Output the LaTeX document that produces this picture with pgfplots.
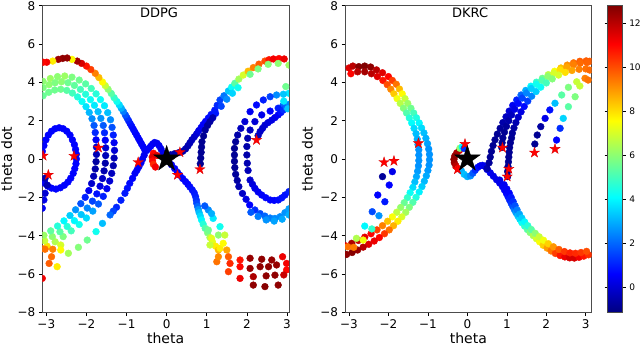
\documentclass[border=0pt]{standalone}
\usepackage{fontspec}
\setmainfont{DejaVu Sans}
\usepackage{pgfplots}
\pgfplotsset{compat=1.18}
\usetikzlibrary{plotmarks}

% filled five-pointed star like matplotlib's '*'
\pgfdeclareplotmark{fstar}{%
  \pgfpathmoveto{\pgfpointpolar{90}{\pgfplotmarksize}}%
  \pgfpathlineto{\pgfpointpolar{126}{0.382*\pgfplotmarksize}}%
  \pgfpathlineto{\pgfpointpolar{162}{\pgfplotmarksize}}%
  \pgfpathlineto{\pgfpointpolar{198}{0.382*\pgfplotmarksize}}%
  \pgfpathlineto{\pgfpointpolar{234}{\pgfplotmarksize}}%
  \pgfpathlineto{\pgfpointpolar{270}{0.382*\pgfplotmarksize}}%
  \pgfpathlineto{\pgfpointpolar{306}{\pgfplotmarksize}}%
  \pgfpathlineto{\pgfpointpolar{342}{0.382*\pgfplotmarksize}}%
  \pgfpathlineto{\pgfpointpolar{18}{\pgfplotmarksize}}%
  \pgfpathlineto{\pgfpointpolar{54}{0.382*\pgfplotmarksize}}%
  \pgfpathclose\pgfusepathqfillstroke}

\pgfplotsset{
  panel/.style={
    scale only axis, width=246.7pt, height=306.6pt,
    ymin=-8, ymax=8,
    xtick={-3,-2,-1,0,1,2,3}, xticklabels={−3,−2,−1,0,1,2,3},
    ytick={-8,-6,-4,-2,0,2,4,6,8}, yticklabels={−8,−6,−4,−2,0,2,4,6,8},
    tick align=outside, xtick pos=bottom, ytick pos=left,
    major tick length=3.5pt,
    tick style={black, line width=0.6pt},
    axis line style={black!70, line width=0.8pt},
    ticklabel style={font=\fontsize{12}{14}\selectfont},
    xlabel={theta}, ylabel={theta dot},
    label style={font=\fontsize{14}{16}\selectfont},
    xlabel style={at={(axis description cs:0.5,-0.085)}, anchor=center},
    colormap/jet, point meta min=-1.16, point meta max=12.8,
    clip marker paths=true,
  },
  dots/.style={scatter, only marks, mark=*, mark size=3.4pt, point meta=explicit,
    scatter/use mapped color={draw=mapped color, fill=mapped color}},
  rstar/.style={only marks, mark=fstar, mark size=5.4pt,
    mark options={fill=red, draw=red!85!black, line width=0.3pt}},
  bstar/.style={only marks, mark=fstar, mark size=13.5pt,
    mark options={fill=black, draw=black}},
}

\begin{document}
\begin{tikzpicture}
\path[use as bounding box] (0,0) rectangle (640pt,347pt);

% ---------------- DDPG ----------------
\begin{axis}[panel, at={(42.3pt,34.7pt)}, anchor=south west,
  xmin=-3.10, xmax=3.05,
  ylabel style={at={(axis description cs:-0.144,0.5)}, anchor=center},
  title={DDPG}, title style={at={(axis description cs:0.473,0.959)}, anchor=center, font=\fontsize{13}{15}\selectfont}]
% band of three orbits on the left
\addplot[dots] coordinates {(-3.08,4.05)[6.0] (-2.90,4.20)[6.2] (-2.72,4.30)[6.0] (-2.54,4.33)[6.2] (-2.36,4.27)[5.8] (-2.18,4.12)[5.6] (-2.02,3.92)[5.3] (-1.88,3.68)[5.0] (-1.76,3.40)[4.6] (-1.65,3.10)[4.2] (-1.55,2.78)[3.8] (-1.47,2.42)[3.2] (-1.40,2.05)[2.5] (-1.36,1.65)[1.7] (-1.33,1.25)[1.0] (-1.31,0.85)[0.4] (-1.30,0.45)[0.0] (-1.31,0.05)[-0.4] (-1.33,-0.35)[-0.5] (-1.37,-0.75)[-0.3] (-1.42,-1.15)[0.0] (-1.49,-1.55)[0.4] (-1.58,-1.95)[1.0] (-1.70,-2.35)[1.8] (-1.84,-2.72)[2.8] (-2.00,-3.08)[3.6] (-2.18,-3.42)[4.3] (-2.38,-3.75)[5.0] (-2.58,-4.05)[5.8] (-2.78,-4.32)[6.5] (-2.98,-4.55)[8.0] (-3.10,-4.68)[9.5]};
\addplot[dots] coordinates {(-3.08,3.72)[5.8] (-2.93,3.88)[6.0] (-2.78,3.98)[5.8] (-2.62,4.03)[6.0] (-2.46,3.98)[5.6] (-2.30,3.84)[5.4] (-2.15,3.63)[5.0] (-2.02,3.38)[4.6] (-1.90,3.10)[4.2] (-1.80,2.80)[3.8] (-1.71,2.47)[3.2] (-1.64,2.12)[2.6] (-1.58,1.75)[1.8] (-1.55,1.37)[1.1] (-1.53,0.98)[0.5] (-1.52,0.58)[0.0] (-1.52,0.18)[-0.4] (-1.53,-0.22)[-0.6] (-1.56,-0.62)[-0.5] (-1.60,-1.02)[-0.2] (-1.66,-1.42)[0.2] (-1.74,-1.82)[0.8] (-1.85,-2.20)[1.5] (-1.98,-2.56)[2.4] (-2.13,-2.90)[3.3] (-2.30,-3.22)[4.0] (-2.48,-3.52)[4.6] (-2.66,-3.80)[5.3] (-2.85,-4.05)[6.0] (-3.04,-4.27)[6.8]};
\addplot[dots] coordinates {(-3.08,3.30)[5.5] (-2.94,3.48)[5.6] (-2.79,3.60)[5.6] (-2.64,3.64)[5.6] (-2.49,3.58)[5.3] (-2.35,3.44)[5.0] (-2.22,3.24)[4.6] (-2.11,3.00)[4.2] (-2.01,2.73)[3.7] (-1.93,2.43)[3.1] (-1.86,2.10)[2.5] (-1.81,1.75)[1.8] (-1.78,1.38)[1.1] (-1.76,1.00)[0.5] (-1.75,0.62)[0.0] (-1.75,0.24)[-0.4] (-1.76,-0.14)[-0.7] (-1.78,-0.52)[-0.6] (-1.82,-0.90)[-0.4] (-1.87,-1.28)[-0.1] (-1.94,-1.65)[0.4] (-2.03,-2.00)[1.0] (-2.14,-2.33)[1.7] (-2.27,-2.65)[2.6] (-2.41,-2.95)[3.4] (-2.56,-3.23)[4.0] (-2.72,-3.50)[4.6] (-2.89,-3.75)[5.4] (-3.06,-3.98)[6.2]};
\addplot[dots] coordinates {(-3.03,-4.71)[9.5] (-2.84,-4.71)[9.3] (-2.87,-5.10)[9.6] (-2.93,-5.45)[9.8] (-2.73,-5.62)[7.8] (-3.10,-6.23)[11.2] (-2.64,-4.49)[7.0] (-2.64,-4.75)[7.6]};
% small loop and left edge
\addplot[dots] coordinates {(-3.10,0.40)[0.6] (-3.06,0.70)[0.6] (-3.01,1.00)[0.6] (-2.95,1.25)[0.6] (-2.87,1.45)[0.6] (-2.78,1.58)[0.6] (-2.68,1.63)[0.6] (-2.58,1.58)[0.6] (-2.49,1.45)[0.6] (-2.41,1.25)[0.6] (-2.35,1.00)[0.6] (-2.30,0.75)[0.6] (-2.27,0.50)[0.6] (-2.25,0.25)[0.6] (-2.25,0.00)[0.6] (-2.26,-0.25)[0.6] (-2.29,-0.50)[0.6] (-2.33,-0.75)[0.6] (-2.39,-1.00)[0.6] (-2.46,-1.20)[0.6] (-2.55,-1.37)[0.6] (-2.65,-1.50)[0.6] (-2.76,-1.57)[0.6] (-2.87,-1.52)[0.6] (-2.96,-1.42)[0.6] (-3.03,-1.28)[0.6] (-3.10,-1.15)[0.6]};
\addplot[dots] coordinates {(-3.03,-1.00)[-0.5] (-2.98,-1.36)[-0.5] (-3.03,-1.79)[0.0] (-3.06,-2.14)[0.3] (-3.10,-2.57)[0.5]};
% X-shaped arms on the left
\addplot[dots] coordinates {(-0.04,0.12)[0.3] (-0.09,0.32)[0.3] (-0.14,0.52)[0.3] (-0.19,0.70)[0.4] (-0.24,0.82)[0.4] (-0.30,0.86)[0.4] (-0.35,0.78)[0.4] (-0.40,0.66)[0.5] (-0.45,0.54)[0.5] (-0.50,0.44)[0.5] (-0.55,0.50)[0.5] (-0.59,0.65)[0.5] (-0.63,0.80)[0.5] (-0.67,0.95)[0.5] (-0.71,1.10)[0.5] (-0.75,1.25)[0.6] (-0.79,1.40)[0.6] (-0.83,1.55)[0.7] (-0.87,1.70)[0.7] (-0.91,1.85)[0.8] (-0.95,2.00)[1.0] (-0.99,2.15)[1.3] (-1.03,2.30)[1.7] (-1.08,2.48)[2.3] (-1.13,2.65)[3.0] (-1.18,2.82)[3.6] (-1.24,3.00)[4.3] (-1.31,3.20)[4.8] (-1.38,3.42)[5.3] (-1.46,3.64)[6.0] (-1.53,3.83)[6.8] (-1.60,4.02)[7.6] (-1.69,4.25)[8.5] (-1.78,4.47)[9.3] (-1.89,4.67)[10.2] (-2.00,4.85)[10.8] (-2.12,4.99)[11.6] (-2.23,5.11)[12.3] (-2.36,5.20)[7.6] (-2.48,5.27)[12.5] (-2.59,5.25)[12.6] (-2.70,5.20)[12.4] (-2.84,5.11)[7.8] (-2.99,5.05)[11.2] (-3.08,5.05)[11.0]};
\addplot[dots] coordinates {(-0.56,0.20)[0.4] (-0.60,0.00)[0.4] (-0.64,-0.20)[0.4] (-0.69,-0.40)[0.5] (-0.74,-0.58)[0.5] (-0.79,-0.75)[0.5] (-0.85,-1.01)[0.6] (-0.92,-1.27)[0.7] (-0.98,-1.53)[0.8] (-1.04,-1.79)[0.9] (-1.14,-2.15)[1.0] (-1.25,-2.52)[1.1] (-1.33,-2.72)[1.5] (-1.41,-2.92)[2.0] (-1.60,-3.36)[3.2] (-1.76,-3.79)[4.3] (-1.98,-4.23)[5.6] (-2.20,-4.61)[5.9] (-2.45,-4.92)[6.3]};
% red cluster near the goal
\addplot[dots] coordinates {(-0.33,0.30)[11.0] (-0.36,0.10)[11.5] (-0.35,-0.10)[11.0] (-0.33,-0.28)[10.5] (-0.28,-0.42)[11.2] (-0.24,0.18)[11.5]};
% arm to upper right
\addplot[dots] coordinates {(0.10,0.22)[-0.6] (0.20,0.28)[-0.6] (0.30,0.33)[-0.6] (0.40,0.40)[-0.6] (0.47,0.52)[-0.5] (0.53,0.68)[-0.5] (0.58,0.84)[-0.4] (0.63,1.00)[-0.3] (0.69,1.16)[-0.2] (0.75,1.32)[0.0] (0.80,1.48)[0.2] (0.86,1.64)[0.4] (0.91,1.80)[0.5] (0.97,1.96)[0.6] (1.04,2.14)[0.7] (1.11,2.32)[0.8] (1.20,2.55)[0.9] (1.26,2.80)[1.1] (1.33,3.08)[1.5] (1.43,3.30)[2.2] (1.54,3.55)[3.3] (1.62,3.75)[4.2] (1.70,3.95)[5.3] (1.80,4.17)[6.3] (1.91,4.38)[7.0] (2.03,4.58)[8.5] (2.16,4.77)[9.3] (2.30,4.95)[9.8] (2.45,5.11)[10.0] (2.55,5.18)[10.8] (2.66,5.22)[11.2] (2.80,5.24)[11.0] (2.93,5.22)[11.3] (3.08,5.20)[11.0]};
\addplot[dots] coordinates {(1.22,2.38)[0.9] (1.36,2.75)[1.5] (1.50,3.12)[2.5] (1.64,3.43)[3.5] (1.78,3.72)[4.3] (2.08,4.42)[5.6] (2.28,4.70)[5.8] (2.53,4.94)[5.9] (2.78,4.99)[6.0] (3.05,4.90)[6.2]};
\addplot[dots] coordinates {(0.84,-0.25)[-0.9] (0.85,0.05)[-0.9] (0.86,0.35)[-0.9] (0.87,0.62)[-0.9] (0.88,0.90)[-0.9] (0.92,1.20)[-0.9] (0.96,1.51)[-0.8] (1.02,1.75)[-0.8] (1.08,1.95)[-0.7] (1.15,2.15)[-0.5]};
% C-shaped orbits on the right
\addplot[dots] coordinates {(3.05,3.43)[3.8] (2.91,3.38)[3.3] (2.74,3.34)[2.5] (2.58,3.25)[1.5] (2.41,3.08)[1.0] (2.24,2.82)[0.7] (2.08,2.47)[0.4] (1.95,1.95)[0.0] (1.85,1.60)[-0.3] (1.77,1.25)[-0.6] (1.72,0.90)[-0.8] (1.69,0.55)[-0.9] (1.69,0.21)[-0.9] (1.69,-0.12)[-0.9] (1.70,-0.45)[-0.9] (1.72,-0.80)[-0.8] (1.76,-1.12)[-0.7] (1.80,-1.44)[-0.5] (1.89,-1.80)[-0.2] (1.98,-2.10)[0.2] (2.07,-2.40)[0.6] (2.20,-2.66)[1.2] (2.33,-2.85)[1.6] (2.45,-2.98)[2.0] (2.58,-3.08)[2.3] (2.70,-3.10)[2.5] (2.83,-3.01)[2.5] (2.95,-2.80)[2.6] (3.05,-2.60)[2.8]};
\addplot[dots] coordinates {(2.10,-2.78)[1.8] (2.28,-3.00)[2.3] (2.48,-3.18)[2.6] (2.68,-3.24)[2.8] (2.88,-3.14)[2.9] (3.05,-2.92)[3.0]};
\addplot[dots] coordinates {(2.90,2.80)[2.0] (2.78,2.65)[1.0] (2.58,2.50)[0.6] (2.37,2.30)[0.3] (2.20,1.95)[0.0] (2.08,1.51)[-0.3] (2.02,1.08)[-0.5] (2.00,0.65)[-0.6] (2.00,0.21)[-0.6] (2.01,-0.22)[-0.5] (2.03,-0.60)[-0.4] (2.08,-1.10)[-0.1] (2.14,-1.32)[0.1] (2.20,-1.53)[0.3] (2.28,-1.72)[0.4] (2.37,-1.88)[0.5] (2.47,-2.02)[0.6] (2.58,-2.14)[0.6] (2.68,-2.16)[0.6] (2.78,-2.14)[0.7] (2.87,-2.03)[0.8] (2.95,-1.88)[0.8] (3.05,-1.70)[1.0]};
\addplot[dots] coordinates {(2.28,1.22)[-0.3] (2.33,1.43)[-0.2] (2.39,1.60)[-0.1] (2.45,1.77)[0.0] (2.53,1.90)[0.1] (2.62,2.03)[0.2] (2.70,2.16)[0.3] (2.78,2.30)[0.5] (2.85,2.43)[0.8] (2.91,2.56)[1.2] (2.98,2.70)[2.0] (3.05,2.85)[2.5]};
\addplot[dots] coordinates {(2.97,3.78)[5.6] (3.07,3.60)[5.0] (2.92,3.02)[3.8] (3.02,2.62)[3.3]};
% arm to lower right and the red fan
\addplot[dots] coordinates {(0.05,-0.12)[0.3] (0.12,-0.30)[0.4] (0.20,-0.50)[0.5] (0.27,-0.70)[0.5] (0.33,-0.85)[0.5] (0.40,-1.02)[0.5] (0.47,-1.18)[0.6] (0.53,-1.32)[0.6] (0.58,-1.46)[0.7] (0.64,-1.62)[0.8] (0.69,-1.78)[0.9] (0.72,-1.96)[1.0] (0.74,-2.14)[1.2] (0.75,-2.31)[1.5] (0.77,-2.48)[2.0] (0.79,-2.64)[2.6] (0.81,-2.80)[3.2] (0.84,-2.98)[3.6] (0.87,-3.18)[4.0] (0.91,-3.40)[4.6] (0.96,-3.62)[5.2] (1.02,-3.85)[5.8] (1.08,-4.10)[6.5] (1.14,-4.32)[7.2] (1.22,-4.55)[7.8] (1.29,-4.75)[8.5]};
\addplot[dots] coordinates {(1.08,-4.49)[6.8] (1.12,-4.14)[7.2] (1.29,-3.97)[6.0] (1.45,-3.97)[6.8] (1.04,-3.71)[5.6] (1.33,-3.53)[4.3] (1.16,-3.10)[3.8] (1.04,-2.66)[2.5] (0.95,-2.45)[1.8] (1.12,-2.85)[3.0] (1.33,-4.66)[7.8] (1.41,-4.40)[7.6] (1.50,-4.75)[8.8] (1.25,-5.36)[9.5] (1.29,-5.10)[9.2] (1.54,-5.10)[9.8] (1.58,-5.45)[10.5] (1.54,-5.88)[10.2] (1.83,-5.27)[10.8] (1.83,-5.62)[11.0] (1.83,-6.23)[11.3] (2.08,-5.18)[12.5] (2.08,-5.71)[12.5] (2.16,-6.14)[12.2] (2.16,-6.58)[12.6] (2.37,-5.23)[12.6] (2.33,-5.62)[12.6] (2.48,-6.10)[12.6] (2.45,-6.66)[12.7] (2.62,-5.27)[12.5] (2.54,-5.62)[12.6] (2.70,-6.06)[12.6] (2.78,-6.58)[12.6] (2.74,-5.53)[12.5] (2.89,-5.10)[11.3] (2.99,-5.45)[11.2] (2.99,-5.79)[11.0] (3.08,-5.20)[11.0] (2.92,-6.05)[11.8]};
\addplot[rstar] coordinates {(-3.08,0.17) (-2.95,-0.83) (-2.31,0.16) (-1.70,0.59) (-0.71,-0.17) (0.33,0.35) (0.27,-0.83) (0.83,-0.54) (2.24,0.99)};
\addplot[bstar] coordinates {(0,0)};
\end{axis}

% ---------------- DKRC ----------------
\begin{axis}[panel, at={(345pt,34.7pt)}, anchor=south west,
  xmin=-3.10, xmax=3.15,
  ylabel style={at={(axis description cs:-0.152,0.5)}, anchor=center},
  title={DKRC}, title style={at={(axis description cs:0.507,0.959)}, anchor=center, font=\fontsize{13}{15}\selectfont},
  colorbar,
  colorbar style={at={(parent axis.north east)}, anchor=north west, xshift=7.5pt,
    scale only axis, width=15pt, height=306.6pt,
    ytick={0,2,4,6,8,10,12}, yticklabels={0,2,4,6,8,10,12},
    yticklabel style={font=\fontsize{9}{11}\selectfont},
    tick align=outside, major tick length=3pt,
    tick style={black, line width=0.6pt},
    axis line style={black!70, line width=0.8pt}}]
% thick band on the left
\addplot[dots] coordinates {(-3.12,4.35)[10.5] (-3.00,4.75)[11.5] (-2.90,4.85)[12.0] (-2.75,4.82)[12.7] (-2.60,4.85)[12.8] (-2.45,4.80)[12.6] (-2.30,4.65)[12.0] (-2.15,4.50)[11.5] (-2.00,4.30)[11.0] (-1.90,4.10)[10.2] (-1.80,3.90)[9.5] (-1.72,3.65)[8.5] (-1.65,3.40)[7.6] (-1.58,3.15)[6.8] (-1.51,2.90)[6.2] (-1.43,2.65)[5.6] (-1.36,2.40)[5.0] (-1.29,2.15)[4.5] (-1.22,1.88)[4.0] (-1.16,1.62)[3.6] (-1.10,1.36)[3.2] (-1.05,1.08)[3.0] (-1.01,0.80)[2.8] (-0.98,0.52)[2.6] (-0.96,0.24)[2.6] (-0.96,-0.04)[2.6] (-0.97,-0.32)[2.6] (-1.00,-0.60)[2.7] (-1.04,-0.88)[2.9] (-1.09,-1.16)[3.1] (-1.15,-1.44)[3.4] (-1.22,-1.72)[3.9] (-1.30,-2.00)[4.5] (-1.38,-2.26)[5.2] (-1.47,-2.52)[5.8] (-1.56,-2.78)[6.3] (-1.66,-3.02)[7.0] (-1.76,-3.25)[7.8] (-1.87,-3.48)[8.6] (-1.98,-3.70)[9.5] (-2.10,-3.90)[10.3] (-2.23,-4.10)[11.0] (-2.36,-4.28)[11.3] (-2.50,-4.45)[11.5] (-2.64,-4.60)[12.0] (-2.78,-4.75)[12.5] (-2.92,-4.88)[12.7] (-3.06,-4.98)[12.6] (-3.12,-5.05)[12.5]};
\addplot[dots] coordinates {(-3.12,4.05)[10.0] (-2.95,4.45)[11.0] (-2.78,4.55)[12.0] (-2.60,4.55)[12.3] (-2.43,4.45)[12.0] (-2.28,4.30)[11.5] (-2.14,4.10)[10.8] (-2.03,3.88)[10.0] (-1.94,3.64)[9.2] (-1.86,3.40)[8.3] (-1.78,3.15)[7.4] (-1.70,2.90)[6.6] (-1.62,2.65)[5.9] (-1.54,2.40)[5.2] (-1.47,2.14)[4.6] (-1.41,1.88)[4.1] (-1.35,1.60)[3.6] (-1.30,1.32)[3.2] (-1.27,1.04)[3.0] (-1.25,0.76)[2.8] (-1.23,0.48)[2.6] (-1.23,0.20)[2.6] (-1.23,-0.08)[2.6] (-1.24,-0.36)[2.6] (-1.26,-0.64)[2.7] (-1.29,-0.92)[2.9] (-1.33,-1.20)[3.2] (-1.38,-1.48)[3.6] (-1.45,-1.76)[4.2] (-1.52,-2.02)[4.8] (-1.60,-2.28)[5.5] (-1.69,-2.53)[6.1] (-1.79,-2.78)[6.7] (-1.90,-3.02)[7.5] (-2.02,-3.25)[8.4] (-2.15,-3.48)[9.3] (-2.29,-3.70)[10.2] (-2.44,-3.90)[11.0] (-2.60,-4.08)[11.4] (-2.76,-4.25)[11.8] (-2.93,-4.40)[12.2] (-3.10,-4.52)[11.5]};
% two dotted runs on the left
\addplot[dots] coordinates {(-2.15,-0.92)[-0.8] (-2.27,-1.88)[0.6] (-2.41,-2.75)[1.6] (-2.60,-3.50)[4.0] (-2.81,-4.14)[6.5] (-3.03,-4.58)[9.5]};
\addplot[dots] coordinates {(-1.90,-0.66)[0.3] (-1.98,-1.36)[0.6] (-2.09,-2.23)[0.9] (-2.24,-2.96)[2.6] (-2.42,-3.65)[4.8] (-2.64,-4.23)[7.4] (-2.88,-4.61)[9.4]};
% near the goal
\addplot[dots] coordinates {(-0.20,0.45)[11.5] (-0.27,0.32)[12.2] (-0.32,0.15)[12.5] (-0.34,-0.02)[12.6] (-0.33,-0.20)[12.4] (-0.29,-0.36)[12.0] (-0.24,-0.50)[11.0]};
\addplot[dots] coordinates {(-0.19,0.56)[6.0] (-0.13,0.63)[4.0] (-0.08,0.55)[1.2]};
\addplot[dots] coordinates {(-0.15,-0.62)[3.0] (-0.08,-0.80)[3.2] (0.00,-0.92)[3.0] (0.08,-0.88)[2.5] (0.14,-0.74)[1.8] (0.20,-0.58)[1.2] (0.26,-0.44)[0.8] (0.32,-0.36)[0.5] (0.38,-0.33)[0.4] (0.44,-0.38)[0.3]};
% arm to lower right
\addplot[dots] coordinates {(0.50,-0.55)[0.3] (0.58,-0.72)[0.3] (0.66,-0.90)[0.3] (0.74,-1.08)[0.3] (0.82,-1.26)[0.3] (0.89,-1.44)[0.4] (0.94,-1.62)[0.5] (0.99,-1.80)[0.6] (1.03,-1.97)[0.8] (1.07,-2.14)[1.0] (1.11,-2.31)[1.3] (1.15,-2.48)[1.7] (1.19,-2.64)[2.2] (1.23,-2.80)[2.7] (1.28,-2.97)[3.2] (1.33,-3.14)[3.6] (1.38,-3.32)[4.2] (1.45,-3.50)[4.7] (1.52,-3.68)[5.3] (1.59,-3.84)[5.9] (1.67,-4.00)[6.5] (1.75,-4.16)[7.0] (1.83,-4.32)[7.5] (1.92,-4.50)[8.2] (2.02,-4.65)[8.9] (2.12,-4.80)[9.5] (2.23,-4.93)[10.2] (2.35,-5.04)[10.8] (2.47,-5.11)[11.3] (2.59,-5.16)[11.6] (2.71,-5.17)[11.6] (2.83,-5.13)[11.2] (2.95,-5.07)[10.8] (3.07,-5.00)[10.4]};
\addplot[dots] coordinates {(0.82,-1.10)[0.3] (0.93,-1.34)[0.4] (1.00,-1.56)[0.5] (1.06,-1.78)[0.6] (1.11,-2.00)[0.9] (1.16,-2.22)[1.2] (1.21,-2.44)[1.7] (1.26,-2.66)[2.3] (1.32,-2.88)[2.9] (1.38,-3.08)[3.4] (1.45,-3.28)[4.0] (1.53,-3.48)[4.6] (1.62,-3.68)[5.3] (1.72,-3.88)[6.0] (1.82,-4.06)[6.8] (1.93,-4.24)[7.4] (2.05,-4.42)[8.2] (2.18,-4.58)[9.0] (2.32,-4.72)[9.8] (2.46,-4.83)[10.3] (2.60,-4.90)[10.6] (2.74,-4.92)[10.5] (2.88,-4.88)[10.3] (3.02,-4.82)[10.0]};
% bundle to upper right
\addplot[dots] coordinates {(0.50,-0.50)[-0.6] (0.55,-0.20)[-0.8] (0.58,0.10)[-0.9] (0.61,0.40)[-0.9] (0.65,0.70)[-0.9] (0.70,1.00)[-0.9] (0.76,1.30)[-0.9] (0.83,1.60)[-0.8] (0.90,1.90)[-0.6] (0.98,2.20)[-0.3] (1.06,2.50)[0.0] (1.15,2.80)[0.4] (1.25,3.08)[1.0] (1.36,3.34)[2.0] (1.48,3.58)[3.0] (1.61,3.80)[4.0] (1.75,4.01)[4.8] (1.90,4.21)[5.6] (2.05,4.40)[6.6] (2.21,4.58)[7.5] (2.37,4.75)[8.4] (2.53,4.90)[9.1] (2.69,5.02)[9.5] (2.85,5.10)[9.8] (3.01,5.12)[9.8] (3.10,5.10)[9.8]};
\addplot[dots] coordinates {(0.87,0.60)[-0.9] (0.88,0.85)[-0.9] (0.90,1.10)[-0.9] (0.94,1.40)[-0.9] (0.99,1.70)[-0.8] (1.05,2.00)[-0.6] (1.12,2.30)[-0.3] (1.20,2.60)[0.2] (1.29,2.90)[0.7] (1.39,3.18)[1.5] (1.50,3.44)[2.4] (1.62,3.68)[3.4] (1.75,3.90)[4.3] (1.89,4.10)[5.2] (2.04,4.30)[6.0] (2.19,4.48)[7.0] (2.35,4.65)[8.0] (2.52,4.80)[8.8] (2.69,4.92)[9.3] (2.86,5.00)[9.6] (3.03,5.03)[9.7]};
\addplot[dots] coordinates {(1.02,-0.92)[-0.9] (1.02,-0.65)[-0.9] (1.03,-0.40)[-0.9] (1.04,-0.15)[-0.9] (1.05,0.10)[-0.9] (1.06,0.35)[-0.9] (1.07,0.60)[-0.9] (1.09,0.85)[-0.9] (1.12,1.10)[-0.9] (1.14,1.35)[-0.8] (1.18,1.62)[-0.7] (1.23,1.90)[-0.5] (1.29,2.18)[-0.2] (1.36,2.46)[0.2] (1.44,2.74)[0.7] (1.53,3.02)[1.4] (1.63,3.28)[2.4] (1.74,3.52)[3.4] (1.86,3.75)[4.2] (2.00,3.97)[5.0] (2.15,4.18)[5.9] (2.31,4.38)[7.0] (2.48,4.52)[8.0] (2.65,4.62)[8.8] (2.83,4.68)[9.3] (3.00,4.70)[9.5] (3.10,4.64)[9.6]};
% two dotted runs on the right
\addplot[dots] coordinates {(1.71,0.78)[-0.9] (1.77,1.25)[-0.9] (1.86,1.69)[-0.7] (1.97,2.12)[0.3] (2.09,2.56)[0.8] (2.22,2.91)[3.2] (2.39,3.34)[5.3] (2.56,3.74)[5.8] (2.77,4.03)[6.8] (2.98,4.21)[9.3]};
\addplot[dots] coordinates {(2.26,0.99)[0.6] (2.35,1.60)[1.2] (2.43,2.12)[3.5] (2.56,2.73)[5.3] (2.73,3.25)[5.8] (2.85,3.81)[6.8] (3.06,4.12)[9.5]};
\addplot[rstar] coordinates {(-2.11,-0.17) (-1.86,-0.10) (-1.24,0.82) (-0.06,0.78) (-0.25,-0.54) (0.89,0.59) (1.05,-0.52) (1.01,-0.92) (1.70,0.33) (2.22,0.52)};
\addplot[bstar] coordinates {(0,0)};
\end{axis}
\end{tikzpicture}
\end{document}
